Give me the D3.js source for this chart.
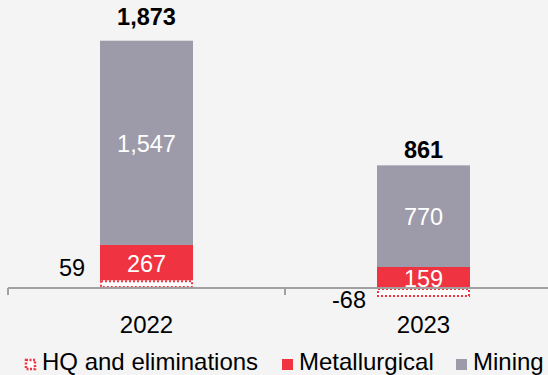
<!DOCTYPE html>
<html>
<head>
<meta charset="utf-8">
<script src="https://cdn.jsdelivr.net/npm/d3@7"></script>
<style>
  html, body { margin: 0; padding: 0; background: #f4f4f4; }
  svg { display: block; font-family: "Liberation Sans", Arial, sans-serif; }
</style>
</head>
<body>
<svg id="chart" width="548" height="375"></svg>
<script>
// EBITDA by segment, stacked per year
const years = ["2022", "2023"];
const hq = [59, -68];
const metallurgical = [267, 159];
const mining = [1547, 770];
const totals = [1873, 861];
const legendLabels = ["HQ and eliminations", "Metallurgical", "Mining"];

const W = 548, H = 375;
const FS = 23.5;
const svg = d3.select("#chart");

const colors = { hq: "#ef3340", met: "#ef3340", mining: "#9d9ba9" };

const x = d3.scaleBand().domain(years).range([8, 562]).paddingInner(0).paddingOuter(0);
const barW = 93;
const y = d3.scaleLinear().domain([0, 1873]).range([288, 40.7]);

// stacked segments: HQ sits on the zero line, the rest stack above its positive part
const segs = [];
years.forEach((yr, i) => {
  let base = Math.max(0, hq[i]);
  segs.push({ yr, key: "hq", y0: Math.min(0, hq[i]), y1: Math.max(0, hq[i]), v: hq[i] });
  segs.push({ yr, key: "met", y0: base, y1: base + metallurgical[i], v: metallurgical[i] });
  base += metallurgical[i];
  segs.push({ yr, key: "mining", y0: base, y1: base + mining[i], v: mining[i] });
});

const cx = yr => x(yr) + x.bandwidth() / 2;
const fmt = v => d3.format(",")(v).replace("\u2212", "-");

const g = svg.append("g");
g.selectAll("rect.seg").data(segs.filter(d => d.key !== "hq")).join("rect")
  .attr("class", "seg")
  .attr("x", d => cx(d.yr) - barW / 2)
  .attr("width", barW)
  .attr("y", d => y(d.y1))
  .attr("height", d => y(d.y0) - y(d.y1))
  .attr("fill", d => colors[d.key]);

// HQ segments: white fill with a dotted red outline
g.selectAll("rect.hq").data(segs.filter(d => d.key === "hq")).join("rect")
  .attr("class", "hq")
  .attr("x", d => cx(d.yr) - barW / 2 + 1)
  .attr("width", barW - 2)
  .attr("y", d => y(d.y1) + 1)
  .attr("height", d => Math.max(0, y(d.y0) - y(d.y1) - 2))
  .attr("fill", "#ffffff")
  .attr("stroke", colors.hq)
  .attr("stroke-width", 2)
  .attr("stroke-dasharray", "2,2");

// category axis
svg.append("line").attr("x1", 8).attr("x2", W).attr("y1", 288).attr("y2", 288)
  .attr("stroke", "#a0a0a0").attr("stroke-width", 2);
const bounds = [8, x("2023")];
svg.selectAll("line.tick").data(bounds).join("line")
  .attr("class", "tick")
  .attr("x1", d => d).attr("x2", d => d).attr("y1", 288).attr("y2", 295)
  .attr("stroke", "#a0a0a0").attr("stroke-width", 2);

svg.selectAll("text.cat").data(years).join("text")
  .attr("class", "cat")
  .attr("x", d => cx(d)).attr("y", 333)
  .attr("text-anchor", "middle").attr("font-size", 24).attr("fill", "#000")
  .text(d => d);

// in-bar labels
svg.selectAll("text.inbar").data(segs.filter(d => d.key !== "hq")).join("text")
  .attr("class", "inbar")
  .attr("x", d => cx(d.yr))
  .attr("y", d => (y(d.y0) + y(d.y1)) / 2 + 1)
  .attr("dy", "0.35em")
  .attr("text-anchor", "middle").attr("font-size", FS).attr("fill", "#ffffff")
  .text(d => fmt(d.v));

// HQ labels beside the bars
svg.selectAll("text.hqlab").data(segs.filter(d => d.key === "hq")).join("text")
  .attr("class", "hqlab")
  .attr("x", d => cx(d.yr) - barW / 2 - 28)
  .attr("y", d => d.v >= 0 ? y(d.y1) - 12 : y(d.y0) + 3)
  .attr("dy", "0.35em")
  .attr("text-anchor", "middle").attr("font-size", FS).attr("fill", "#000")
  .text(d => fmt(d.v));

// totals
svg.selectAll("text.total").data(years).join("text")
  .attr("class", "total")
  .attr("x", d => cx(d))
  .attr("y", (d, i) => y(totals[i]) - 16)
  .attr("text-anchor", "middle").attr("font-size", FS).attr("font-weight", "bold").attr("fill", "#000")
  .text((d, i) => fmt(totals[i]));

// legend
const legX = [25, 282, 456];
const leg = svg.append("g");
legendLabels.forEach((lab, i) => {
  const lx = legX[i];
  if (i === 0) {
    leg.append("rect").attr("x", lx + 1).attr("y", 360).attr("width", 9).attr("height", 9)
      .attr("fill", "#ffffff").attr("stroke", colors.hq).attr("stroke-width", 2.5)
      .attr("stroke-dasharray", "2,1.5");
  } else {
    leg.append("rect").attr("x", lx).attr("y", 359).attr("width", 11).attr("height", 11)
      .attr("fill", i === 1 ? colors.met : colors.mining);
  }
  leg.append("text").attr("x", lx + 17).attr("y", 370)
    .attr("font-size", 24).attr("fill", "#000").text(lab);
});
</script>
</body>
</html>
